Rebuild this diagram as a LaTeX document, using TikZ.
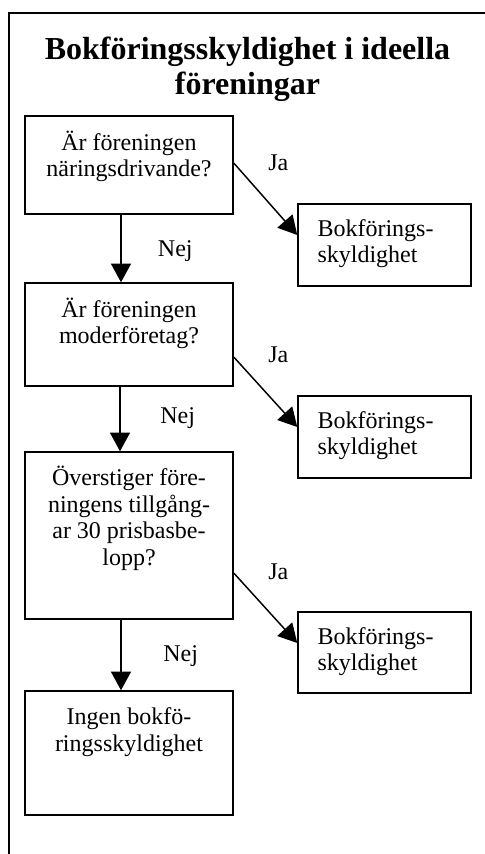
\documentclass[tikz,border=0pt]{standalone}
\usepackage{fontspec}
\setmainfont{Liberation Serif}
\usetikzlibrary{arrows.meta,calc,fit}
\begin{document}
\begin{tikzpicture}[x=0.75pt,y=-0.75pt,
  box/.style={draw, line width=1.1pt, inner sep=0pt},
  qtxt/.style={anchor=north, inner sep=0pt, align=center, font=\fontsize{18}{20}\selectfont},
  btxt/.style={anchor=north west, inner sep=0pt, align=left, font=\fontsize{18}{20}\selectfont},
  lbl/.style={anchor=base west, inner sep=0pt, font=\fontsize{18}{20}\selectfont},
  arr/.style={line width=1.1pt, -{Triangle[length=14pt,width=15pt]}},
  frame/.style={line width=1.5pt},
]
\useasboundingbox (0,0) rectangle (485,854);
% frame
\coordinate (fa) at (485,13);
\coordinate (fb) at (9,13);
\coordinate (fc) at (9,856);
\draw[frame] (fa) -- (fb) -- (fc);

% title
\node[anchor=north, inner sep=0pt, align=center, font=\fontsize{24}{26.25}\selectfont\bfseries] (title) at (247.5,34.8)
  {\strut Bokföringsskyldighet i ideella\\\strut föreningar};

% question boxes
\node[box, fit={(25,116) (233,214)}] (q1) {};
\node[box, fit={(25,283) (233,386)}] (q2) {};
\node[box, fit={(25,452) (233,619)}] (q3) {};
\node[box, fit={(25,691) (233,815)}] (q4) {};
% result boxes
\node[box, fit={(298,204) (471,286)}] (b1) {};
\node[box, fit={(298,396) (471,478)}] (b2) {};
\node[box, fit={(298,612) (471,693)}] (b3) {};

% texts
\node[qtxt] (t1) at ($(q1.north)+(0,15.3)$) {\strut Är föreningen\\\strut näringsdrivande?};
\node[qtxt] (t2) at ($(q2.north)+(0,15.3)$) {\strut Är föreningen\\\strut moderföretag?};
\node[qtxt] (t3) at ($(q3.north)+(0,14.5)$) {\strut Överstiger före-\\\strut ningens tillgång-\\\strut ar 30 prisbasbe-\\\strut lopp?};
\node[qtxt] (t4) at ($(q4.north)+(0,15.3)$) {\strut Ingen bokfö-\\\strut ringsskyldighet};
\node[btxt] (u1) at ($(b1.north west)+(20,14)$) {\strut Bokförings-\\\strut skyldighet};
\node[btxt] (u2) at ($(b2.north west)+(20,14)$) {\strut Bokförings-\\\strut skyldighet};
\node[btxt] (u3) at ($(b3.north west)+(20,14)$) {\strut Bokförings-\\\strut skyldighet};

% arrows down
\draw[arr] ($(q1.south)+(-8,0)$) -- ($(q2.north)+(-8,0)$);
\draw[arr] ($(q2.south)+(-9,0)$) -- ($(q3.north)+(-9,0)$);
\draw[arr] ($(q3.south)+(-8,0)$) -- ($(q4.north)+(-8,0)$);
% arrows right
\draw[arr] ($(q1.east)+(0,-2)$) -- ($(b1.west)+(0,-10)$);
\draw[arr] ($(q2.east)+(0,22.5)$) -- ($(b2.west)+(0,-10)$);
\draw[arr] ($(q3.east)+(0,37.5)$) -- ($(b3.west)+(0,-9.5)$);

% labels
\node[lbl] (ja1) at (268,170) {Ja};
\node[lbl] (ja2) at (268,362.7) {Ja};
\node[lbl] (ja3) at (268,579) {Ja};
\node[lbl] (nej1) at (157.7,256.7) {Nej};
\node[lbl] (nej2) at (160,423.3) {Nej};
\node[lbl] (nej3) at (163,661.7) {Nej};
\end{tikzpicture}
\end{document}
